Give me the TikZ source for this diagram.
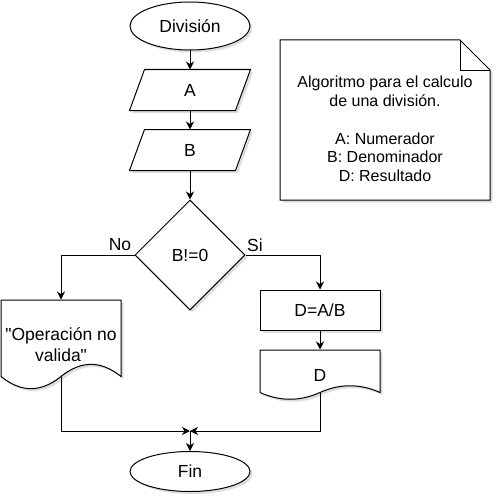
\documentclass[tikz,border=0pt]{standalone}
\usepackage{fontspec}
\setmainfont{Liberation Sans}[Ligatures=TeXOff]
\usetikzlibrary{shapes.geometric,arrows.meta,backgrounds,calc}
\begin{document}
\begin{tikzpicture}[x=1pt,y=-1pt,
  line width=1pt,
  base/.style={font=\fontsize{17.5}{21}\selectfont, inner sep=0pt},
  sh/.style={preaction={fill=black, fill opacity=0.13, draw=none, transform canvas={shift={(2.5pt,-2.5pt)}}}},
  term/.style={base, ellipse, draw, fill=white, sh, minimum width=120pt, minimum height=48pt},
  procbox/.style={base, draw, fill=white, sh, minimum width=120pt, minimum height=40pt},
  dec/.style={base, diamond, draw, fill=white, sh, minimum width=110pt, minimum height=110pt},
  blank/.style={base, minimum width=120pt},
  shp/.style={draw=black, line width=1pt, fill=white, sh, line join=miter},
  arr/.style={-{Stealth[length=8pt,width=8pt,inset=2.5pt]}, line width=1pt},
  lab/.style={base},
]
\useasboundingbox (0,0) rectangle (502,503);

% nodes
\node[term] (div) at (190,26) {División};
\node[blank, minimum height=40pt] (A) at (190,90) {A};
\node[blank, minimum height=40pt] (B) at (190,150) {B};
\node[dec] (dec) at (190,255) {B!=0};
\node[procbox] (calc) at (320,310) {D=A/B};
\node[blank, minimum height=50pt] (dout) at (320,375) {D};
\node[blank, minimum height=90pt, align=center] (err) at (61,345) {"Operación no\\valida"};
\node[term, minimum height=40pt] (fin) at (190,471.5) {Fin};
\node[base, font=\fontsize{16}{18.7}\selectfont, align=center, minimum width=210pt, minimum height=160pt] (note) at (385,129)
  {Algoritmo para el calculo\\de una división.\\[18.7pt]A: Numerador\\B: Denominador\\D: Resultado};

\coordinate (errb) at (61,376.5);
\coordinate (doutb) at (320,392.5);
\coordinate (j) at (190,431);

% shapes drawn behind the texts
\begin{scope}[on background layer]
  \path[shp] ($(A.north west)+(15,0)$) -- (A.north east) -- ($(A.south east)+(-15,0)$) -- (A.south west) -- cycle;
  \path[shp] ($(B.north west)+(15,0)$) -- (B.north east) -- ($(B.south east)+(-15,0)$) -- (B.south west) -- cycle;
  % document: error message
  \path[shp] (1,300) -- (121,300) -- (121,376.5)
     .. controls (101,360.3) and (81,360.3) .. (61,376.5)
     .. controls (41,392.7) and (21,392.7) .. (1,376.5) -- cycle;
  % document: D
  \path[shp] (260,350) -- (380,350) -- (380,392.5)
     .. controls (360,383.5) and (340,383.5) .. (320,392.5)
     .. controls (300,401.5) and (280,401.5) .. (260,392.5) -- cycle;
  % note
  \path[shp] (280,40) -- (460,40) -- (490,70) -- (490,200) -- (280,200) -- cycle;
  \draw[draw=black, line width=1pt, line join=miter] (460,40) -- (460,70) -- (490,70);
\end{scope}

% connectors
\draw[arr] (div) -- (A);
\draw[arr] (A) -- (B);
\draw[arr] (B) -- (dec);
\draw[arr] (dec.west) -| (err.north);
\draw[arr] (dec.east) -| (calc.north);
\draw[arr] (calc) -- (dout);
\draw[arr] (errb) |- (j);
\draw[arr] (doutb) |- (j);
\draw[arr] (j) -- (fin);

% labels
\node[lab] (no) at (120,245) {No};
\node[lab] (si) at (255,245) {Si};
\end{tikzpicture}
\end{document}
